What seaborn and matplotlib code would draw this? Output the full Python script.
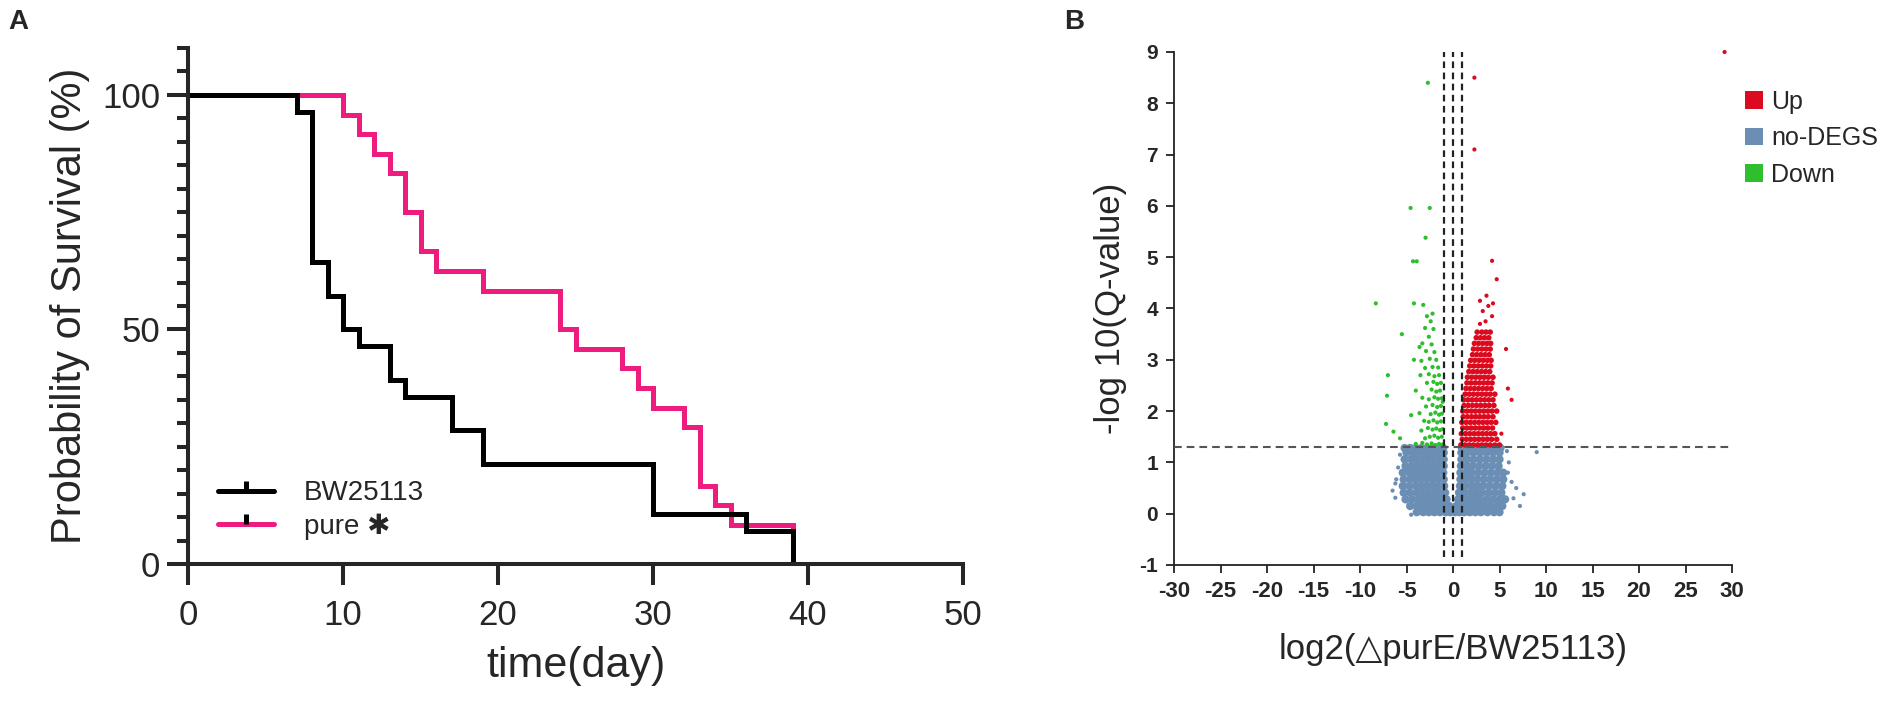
import pandas as pd
import matplotlib
matplotlib.use('Agg')
import matplotlib.pyplot as plt
import seaborn as sns
from matplotlib.lines import Line2D
from matplotlib.patches import Patch
from matplotlib.ticker import MultipleLocator

# panel A: survival (%) per day
bw_days = [0, 7, 8, 9, 10, 11, 13, 14, 17, 19, 30, 36, 39]
bw_surv = [100, 96.4, 64.3, 57.1, 50, 46.4, 39.3, 35.7, 28.6, 21.4, 10.7, 7.1, 0]
pure_days = [0, 10, 11, 12, 13, 14, 15, 16, 19, 24, 25, 28, 29, 30, 32, 33, 34, 35, 39]
pure_surv = [100, 95.8, 91.7, 87.5, 83.3, 75, 66.7, 62.5, 58.3, 50, 45.8, 41.7,
             37.5, 33.3, 29.2, 16.7, 12.5, 8.3, 0]

# panel B: volcano points, one list of log2FC values per -log10(q) row
nodeg_y = [0.03, 0.15, 0.28, 0.41, 0.54, 0.67, 0.80, 0.93, 1.06, 1.19, 1.28]
nodeg_x = [
    [-3.9, -3.2, -2.6, -2.0, -1.4, -0.8, -0.3, 0.2, 0.7, 1.2, 1.8, 2.4, 3.0, 3.7, 4.4, 5.0],
    [-4.6, -3.9, -3.3, -2.7, -2.1, -1.5, -0.9, -0.4, 0.35, 0.9, 1.5, 2.1, 2.7, 3.3, 4.0, 4.7, 5.3],
    [-5.1, -4.4, -3.7, -3.1, -2.5, -1.9, -1.3, -0.7, 0.55, 1.1, 1.7, 2.3, 2.9, 3.6, 4.3, 5.0, 5.6],
    [-5.3, -4.6, -3.9, -3.3, -2.7, -2.1, -1.5, -0.85, 0.65, 1.25, 1.9, 2.5, 3.1, 3.8, 4.5, 5.2],
    [-5.4, -4.7, -4.0, -3.4, -2.8, -2.2, -1.6, -0.95, 0.75, 1.35, 2.0, 2.6, 3.2, 3.9, 4.6, 5.3],
    [-5.3, -4.6, -4.0, -3.4, -2.8, -2.2, -1.6, -1.0, 0.8, 1.4, 2.0, 2.6, 3.3, 4.0, 4.7, 5.4],
    [-5.4, -4.7, -4.1, -3.5, -2.9, -2.3, -1.7, -1.05, 0.8, 1.4, 2.0, 2.7, 3.4, 4.1, 4.8, 5.4],
    [-5.1, -4.4, -3.8, -3.2, -2.6, -2.0, -1.4, -1.0, 0.85, 1.5, 2.1, 2.8, 3.5, 4.2, 4.9],
    [-5.2, -4.5, -3.9, -3.3, -2.7, -2.1, -1.5, -1.0, 0.9, 1.5, 2.2, 2.9, 3.6, 4.3, 5.0],
    [-5.0, -4.3, -3.7, -3.1, -2.5, -1.9, -1.4, -1.0, 0.9, 1.5, 2.2, 2.9, 3.6, 4.3, 5.0],
    [-5.2, -4.6, -4.0, -3.4, -2.8, -2.2, -1.6, -1.05, 0.95, 1.6, 2.3, 3.0, 3.7, 4.4, 5.1],
]
# loose blue points around the edge of the cloud
nodeg_edge_x = [-6.2, -6.2, -6.5, -5.9, -6.1, -5.7, -4.5, 5.9, 6.5, 7.2, 6.8, 6.0, 5.8, 6.3, 9.0, 7.6]
nodeg_edge_y = [0.59, 0.31, 0.45, 0.90, 0.67, 1.15, -0.02, 0.80, 0.30, 0.15, 0.50, 1.00, 1.22, 0.62, 1.20, 0.38]

up_y = [1.34, 1.45, 1.56, 1.67, 1.78, 1.89, 2.00, 2.11, 2.22, 2.33, 2.44,
        2.55, 2.66, 2.77, 2.88, 2.99, 3.10, 3.21, 3.32, 3.43, 3.54]
up_x = [
    [0.85, 1.3, 1.75, 2.2, 2.65, 3.1, 3.55, 4.0, 4.5, 5.0],
    [1.0, 1.45, 1.9, 2.35, 2.8, 3.25, 3.7, 4.15, 4.7],
    [0.9, 1.35, 1.8, 2.25, 2.7, 3.15, 3.6, 4.05, 4.5],
    [1.05, 1.5, 1.95, 2.4, 2.85, 3.3, 3.75, 4.25],
    [0.95, 1.4, 1.85, 2.3, 2.75, 3.2, 3.65, 4.1, 4.6],
    [1.1, 1.55, 2.0, 2.45, 2.9, 3.35, 3.8, 4.3],
    [1.05, 1.5, 1.95, 2.4, 2.85, 3.3, 3.75, 4.2, 4.7],
    [1.2, 1.65, 2.1, 2.55, 3.0, 3.45, 3.9, 4.4],
    [1.15, 1.6, 2.05, 2.5, 2.95, 3.4, 3.85, 4.3],
    [1.3, 1.75, 2.2, 2.65, 3.1, 3.55, 4.0, 4.5],
    [1.4, 1.85, 2.3, 2.75, 3.2, 3.65, 4.1],
    [1.5, 1.95, 2.4, 2.85, 3.3, 3.75, 4.2],
    [1.55, 2.0, 2.45, 2.9, 3.35, 3.8, 4.3],
    [1.7, 2.15, 2.6, 3.05, 3.5, 3.95],
    [1.8, 2.25, 2.7, 3.15, 3.6, 4.05],
    [1.9, 2.35, 2.8, 3.25, 3.7, 4.1],
    [2.1, 2.55, 3.0, 3.45, 3.9],
    [2.2, 2.65, 3.1, 3.55, 4.0],
    [2.3, 2.75, 3.2, 3.65, 4.05],
    [2.5, 2.95, 3.4, 3.85],
    [2.6, 3.1, 3.55, 4.0],
]
# loose red points (outside the dense column)
up_loose_x = [5.2, 6.3, 5.9, 5.7, 2.9, 3.5, 4.2, 3.2, 3.8, 4.3, 2.9, 3.6, 4.7, 4.2, 2.3, 2.3, 29.2]
up_loose_y = [1.56, 2.22, 2.44, 3.21, 3.70, 3.75, 3.85, 3.95, 4.05, 4.10, 4.15, 4.25, 4.57, 4.93, 7.1, 8.5, 9.0]

down_x = [-1.1, -1.5, -1.9, -2.3, -2.8, -3.3, -4.0,
          -1.2, -1.6, -2.0, -2.5, -3.0, -5.7,
          -1.1, -1.4, -1.8, -2.2, -2.7, -3.4, -6.4,
          -1.3, -1.7, -2.1, -2.6, -3.1, -7.2,
          -1.2, -1.5, -1.9, -2.4, -3.6, -4.5,
          -1.3, -1.7, -2.2, -2.9, -1.1,
          -1.2, -1.6, -2.0, -2.6, -3.3, -7.1,
          -1.4, -1.8, -2.3, -4.0,
          -1.3, -1.7, -2.1, -2.8,
          -1.5, -2.0, -2.6, -3.5, -7.0,
          -1.6, -2.2, -3.0,
          -1.8, -2.5, -3.4, -4.2,
          -2.0, -2.9,
          -2.3, -3.3, -3.6,
          -2.6, -5.5,
          -2.1, -3.0,
          -2.4, -2.8, -2.2,
          -8.3, -4.2, -3.2,
          -4.3, -3.9, -2.95, -4.56, -2.5, -2.7]
down_y = [1.35, 1.36, 1.34, 1.37, 1.35, 1.38, 1.36,
          1.50, 1.48, 1.52, 1.50, 1.47, 1.47,
          1.65, 1.63, 1.66, 1.64, 1.67, 1.62, 1.60,
          1.80, 1.78, 1.82, 1.79, 1.81, 1.75,
          1.95, 1.93, 1.97, 1.94, 1.96, 1.92,
          2.10, 2.08, 2.12, 2.09, 2.18,
          2.25, 2.24, 2.27, 2.23, 2.26, 2.30,
          2.40, 2.38, 2.42, 2.40,
          2.55, 2.53, 2.57, 2.55,
          2.70, 2.68, 2.72, 2.70, 2.70,
          2.85, 2.86, 2.84,
          3.00, 3.02, 2.98, 3.00,
          3.15, 3.17,
          3.30, 3.32, 3.25,
          3.45, 3.50,
          3.60, 3.62,
          3.75, 3.85, 3.90,
          4.10, 4.10, 4.07,
          4.92, 4.92, 5.38, 5.96, 5.96, 8.40]

PINK = '#EE1C7E'
RED = '#DC0A1E'
BLUE = '#6B8EB4'
GREEN = '#2EBE2E'

sns.set_style('ticks')
plt.rcParams['font.family'] = ['Liberation Sans', 'DejaVu Sans']
plt.rcParams['axes.unicode_minus'] = False

fig = plt.figure(figsize=(19.01, 7.07), dpi=100)
ax1 = fig.add_axes([188 / 1901, 1 - 564 / 707, 775 / 1901, 516 / 707])
ax2 = fig.add_axes([1174 / 1901, 1 - 565 / 707, 558 / 1901, 513 / 707])

# ---------- A: survival curves ----------
surv = pd.DataFrame({
    'day': pure_days + bw_days,
    'surv': pure_surv + bw_surv,
    'group': ['pure'] * len(pure_days) + ['BW25113'] * len(bw_days),
})
sns.lineplot(data=surv, x='day', y='surv', hue='group', hue_order=['pure', 'BW25113'],
             palette={'pure': PINK, 'BW25113': 'black'}, drawstyle='steps-post',
             estimator=None, linewidth=3.6, legend=False, ax=ax1, clip_on=False,
             solid_joinstyle='miter', solid_capstyle='butt')

ax1.set_xlim(0, 50)
ax1.set_ylim(0, 110)
sns.despine(ax=ax1)
for s in ['left', 'bottom']:
    ax1.spines[s].set_linewidth(2.9)
ax1.xaxis.set_major_locator(MultipleLocator(10))
ax1.yaxis.set_major_locator(MultipleLocator(50))
ax1.yaxis.set_minor_locator(MultipleLocator(5))
ax1.tick_params(axis='x', length=15, width=2.9, labelsize=25, pad=10)
ax1.tick_params(axis='y', which='major', length=15, width=2.9, labelsize=25, pad=5)
ax1.tick_params(axis='y', which='minor', length=8, width=2.9)
ax1.set_xlabel('time(day)', fontsize=31, labelpad=10)
ax1.set_ylabel('Probability of Survival (%)', fontsize=30, labelpad=9)

tick_up = [(0, 0), (0, 1)]
h1 = [Line2D([0], [0], color='black', lw=3.6, marker=tick_up, markersize=14,
             markeredgewidth=3.6, markeredgecolor='black'),
      Line2D([0], [0], color=PINK, lw=3.6, marker=tick_up, markersize=14,
             markeredgewidth=3.6, markeredgecolor='black')]
ax1.legend(h1, ['BW25113', 'pure ✱'], loc='center left',
           bbox_to_anchor=(218 / 1901, 1 - 510 / 707), bbox_transform=fig.transFigure,
           frameon=False, fontsize=20, handlelength=2.0, handletextpad=1.1,
           labelspacing=0.25, borderpad=0, borderaxespad=0, numpoints=1)

# ---------- B: volcano ----------
rows = []
for y, xs in zip(nodeg_y, nodeg_x):
    rows += [(x, y, 'no-DEGS') for x in xs]
rows += [(x, y, 'edge') for x, y in zip(nodeg_edge_x, nodeg_edge_y)]
for y, xs in zip(up_y, up_x):
    rows += [(x, y, 'Up') for x in xs]
rows += [(x, y, 'up_loose') for x, y in zip(up_loose_x, up_loose_y)]
rows += [(x, y, 'Down') for x, y in zip(down_x, down_y)]
vol = pd.DataFrame(rows, columns=['log2fc', 'q', 'cls'])

sns.scatterplot(data=vol, x='log2fc', y='q', hue='cls', size='cls',
                palette={'Up': RED, 'up_loose': RED, 'no-DEGS': BLUE, 'edge': BLUE, 'Down': GREEN},
                sizes={'Up': 16, 'up_loose': 9, 'no-DEGS': 36, 'edge': 9, 'Down': 9},
                linewidth=0, legend=False, ax=ax2, clip_on=False, zorder=2)

ax2.vlines([-1, 0, 1], -0.85, 9, colors='#222222', linestyles=(0, (3, 2)), lw=1.6, zorder=3)
ax2.axhline(1.301, color='#555555', ls=(0, (3.7, 2.4)), lw=1.5, zorder=3)

ax2.set_xlim(-30, 30)
ax2.set_ylim(-1, 9)
sns.despine(ax=ax2)
for s in ['left', 'bottom']:
    ax2.spines[s].set_linewidth(1.3)
    ax2.spines[s].set_color('#222222')
ax2.xaxis.set_major_locator(MultipleLocator(5))
ax2.yaxis.set_major_locator(MultipleLocator(1))
ax2.tick_params(axis='x', length=5.5, width=1.3, labelsize=16, pad=6, color='#222222')
ax2.tick_params(axis='y', length=5.5, width=1.3, labelsize=15, pad=6, color='#222222')
plt.setp(ax2.get_xticklabels() + ax2.get_yticklabels(), fontweight='bold')
ax2.set_xlabel('log2(△purE/BW25113)', fontsize=25, labelpad=22)
ax2.set_ylabel('-log 10(Q-value)', fontsize=25, labelpad=9)

h2 = [Patch(facecolor=RED, edgecolor='none'),
      Patch(facecolor=BLUE, edgecolor='none'),
      Patch(facecolor=GREEN, edgecolor='none')]
ax2.legend(h2, ['Up', 'no-DEGS', 'Down'], loc='center left',
           bbox_to_anchor=(1745 / 1901, 1 - 138 / 707), bbox_transform=fig.transFigure,
           frameon=False, fontsize=18, handlelength=0.7, handleheight=0.7,
           handletextpad=0.35, labelspacing=0.5, borderpad=0, borderaxespad=0)

fig.text(8 / 1901, 1 - 22 / 707, 'A', fontsize=20, fontweight='bold', va='center')
fig.text(1064 / 1901, 1 - 22 / 707, 'B', fontsize=20, fontweight='bold', va='center')

fig.savefig('out.png', dpi=100)
